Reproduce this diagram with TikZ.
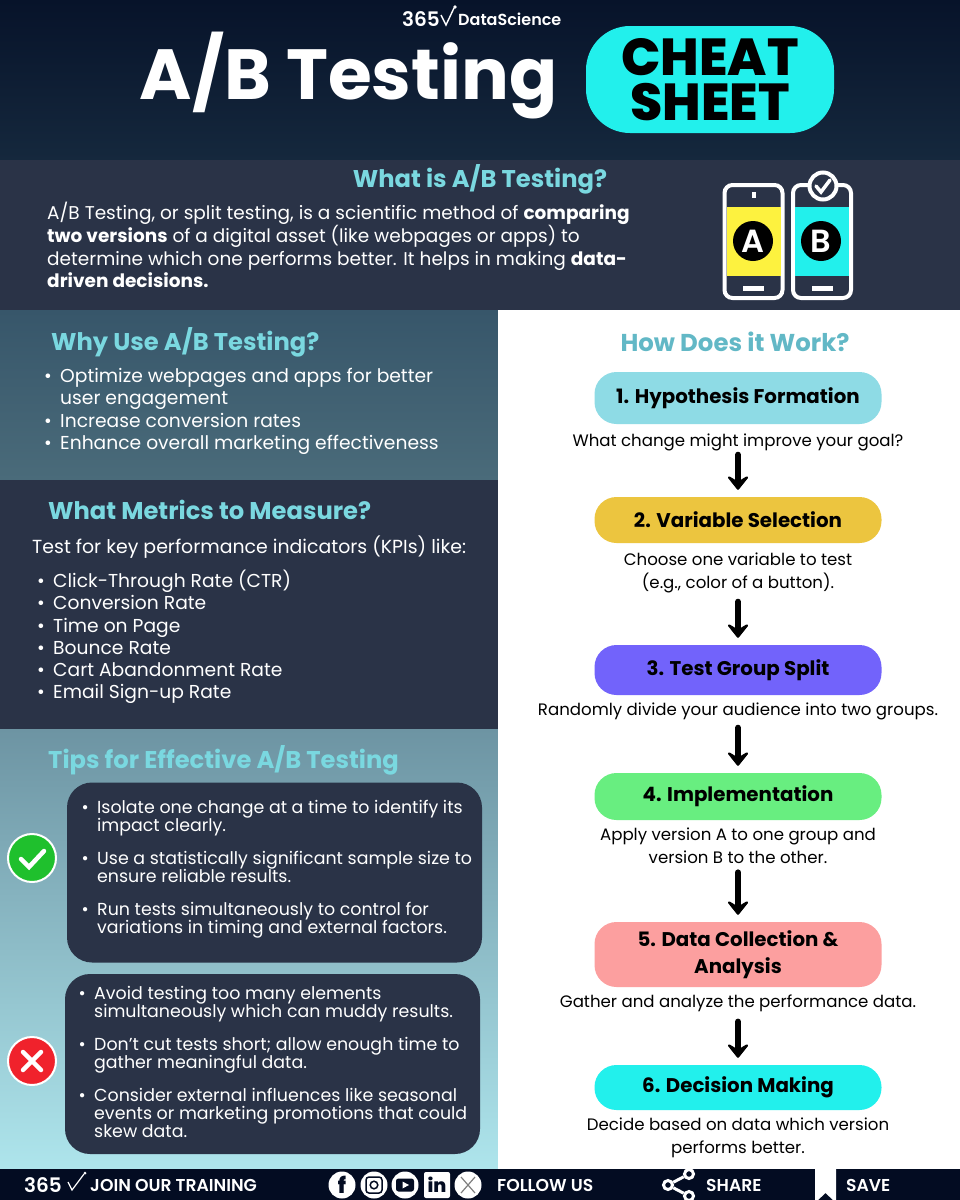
\documentclass[tikz,border=0pt]{standalone}
\usepackage{fontspec}
\setmainfont{Poppins}
\newfontfamily\heavyfont{Poppins}[UprightFont=* ExtraBold]
\newfontfamily\semifont{Poppins}[UprightFont=* SemiBold]
\usepackage{xcolor}
\usepackage{tikz}
\usetikzlibrary{arrows.meta,positioning,shapes.geometric}

\definecolor{navy}{HTML}{030C22}
\definecolor{headtop}{HTML}{07132A}
\definecolor{headbot}{HTML}{15283D}
\definecolor{slate}{HTML}{2A3347}
\definecolor{whytop}{HTML}{37566A}
\definecolor{whybot}{HTML}{4A6B7A}
\definecolor{tiptop}{HTML}{6D94A3}
\definecolor{tipbot}{HTML}{AEE5EC}
\definecolor{headcyan}{HTML}{7AD8E0}
\definecolor{howcyan}{HTML}{62B8C6}
\definecolor{cyanpill}{HTML}{22F0EC}
\definecolor{stepblue}{HTML}{8EDBE5}
\definecolor{stepgold}{HTML}{ECC53F}
\definecolor{stepviolet}{HTML}{7263FB}
\definecolor{stepgreen}{HTML}{68EE80}
\definecolor{steppink}{HTML}{FC9F9F}
\definecolor{okgreen}{HTML}{1FC02D}
\definecolor{nored}{HTML}{F0222C}
\definecolor{screenA}{HTML}{FDF23F}

% size in px, leading in px
\newcommand{\fsz}[2]{\fontsize{#1}{#2}\selectfont}
% lines of a node, its baseline being the first line
\newcommand{\rows}[1]{\begin{tabular}[t]{@{}l@{}}#1\end{tabular}}

\begin{document}
\begin{tikzpicture}[
    x=1pt, y=-1pt,
    heading/.style={font=\bfseries\fsz{24.2}{28}, text=headcyan, inner sep=0pt},
    bodytext/.style={font=\fsz{18.5}{22.3}, text=white, anchor=base west, inner sep=0pt},
    bulletitem/.style={font=\fsz{18.7}{22.3}, text=white, anchor=base west, inner sep=0pt,
        label={[font=\fsz{18.7}{22.3}, text=white, inner sep=0pt, anchor=base east, xshift=-8pt]base west:•}},
    tipitem/.style={font=\fsz{17.4}{17}, text=white, anchor=base west, inner sep=0pt,
        label={[font=\fsz{17.4}{17}, text=white, inner sep=0pt, anchor=base east, xshift=-8pt]base west:•}},
    tipbox/.style={rectangle, fill=slate, rounded corners=25pt, minimum width=415pt, minimum height=180pt},
    stepbox/.style={rectangle, rounded corners=22pt, minimum width=287pt, align=center, font=\bfseries\fsz{19.8}{27}, text=black},
    stepnote/.style={font=\fsz{16.6}{23}, text=black, align=center, inner sep=0pt},
    flowarrow/.style={-{Stealth[round,length=17pt,width=27pt,inset=8pt,line width=2.5pt]}, line width=6pt, line cap=round, black},
    barlabel/.style={font=\semifont\fsz{17.2}{20}, text=white, anchor=west, inner sep=0pt},
    phone/.style={draw=white, line width=4pt, rounded corners=8pt, minimum width=58pt, minimum height=113pt, fill=slate}
]
    \useasboundingbox (0,0) rectangle (960,1200);

    % Panels
    \shade[top color=headtop, bottom color=headbot] (0,0) rectangle (960,160);
    \fill[slate] (0,160) rectangle (960,310);
    \shade[top color=whytop, bottom color=whybot] (0,310) rectangle (498,480);
    \fill[slate] (0,480) rectangle (498,729);
    \shade[top color=tiptop, bottom color=tipbot] (0,729) rectangle (498,1169);
    \fill[white] (498,310) rectangle (960,1169);
    \fill[navy] (0,1169) rectangle (960,1200);

    % Title
    \node[font=\semifont\fsz{20}{24}, text=white, inner sep=0pt, anchor=west] (logo365) at (402,19.5) {365};
    \draw[white, line width=1.4pt] (441,15) -- (446,25) -- (454,8);
    \fill[white] (455,7) circle (1.8pt);
    \node[font=\semifont\fsz{16}{24}, text=white, inner sep=0pt, anchor=west] (logoname) at (458,19.5) {DataScience};
    \node[font=\bfseries\fsz{71}{80}, text=white, inner sep=0pt] (title) at (348.5,76) {A/B Testing};
    \node[fill=cyanpill, rounded corners=44pt, minimum width=248pt, minimum height=107pt] (pill) at (710,79.5) {};
    \node[font=\heavyfont\fsz{52}{45}, text=black, align=center, inner sep=0pt] (cheat) at (pill) {CHEAT\\SHEET};

    % What is
    \node[heading] (whatis) at (480,179) {What is A/B Testing?};
    \node[bodytext] (intro) at (47,219) {\rows{A/B Testing, or split testing, is a scientific method of \textbf{comparing}\\
        \textbf{two versions} of a digital asset (like webpages or apps) to\\
        determine which one performs better. It helps in making \textbf{data-}\\
        \textbf{driven decisions.}}};

    % Phones
    \node[phone] (phoneA) at (753.5,241.5) {};
    \node[phone] (phoneB) at (822,241.5) {};
    \fill[screenA] (727,207) rectangle (781,276);
    \fill[cyanpill] (795,207) rectangle (849,276);
    \fill[white] (751.5,192) rectangle (755.5,198);
    \fill[white] (743,286) rectangle (764,291);
    \fill[white] (812,286) rectangle (833,291);
    \node[circle, fill=black, text=white, font=\semifont\fsz{32}{32}, minimum size=40pt, inner sep=0pt] (markA) at (753,241) {A};
    \node[circle, fill=black, text=white, font=\semifont\fsz{32}{32}, minimum size=40pt, inner sep=0pt] (markB) at (821,241) {B};
    \node[circle, draw=white, line width=4pt, fill=slate, minimum size=27pt, inner sep=0pt] (checkB) at (823,186) {};
    \draw[white, line width=3.5pt, line cap=round] (816,186) -- (821,192) -- (830,180);

    % Why use
    \node[heading, anchor=west] (whyuse) at (51,342) {Why Use A/B Testing?};
    \node[bulletitem] (why1) at (60,382) {\rows{Optimize webpages and apps for better\\user engagement}};
    \node[bulletitem] (why2) at (60,427) {Increase conversion rates};
    \node[bulletitem] (why3) at (60,449) {Enhance overall marketing effectiveness};

    % Metrics
    \node[heading, anchor=west] (metrics) at (48,510) {What Metrics to Measure?};
    \node[bodytext, font=\fsz{18.9}{22.3}] (kpi) at (32,553) {Test for key performance indicators (KPIs) like:};
    \foreach \n/\y/\txt in {1/587/Click-Through Rate (CTR), 2/609/Conversion Rate, 3/632/Time on Page,
        4/654/Bounce Rate, 5/676/Cart Abandonment Rate, 6/698/Email Sign-up Rate}
        \node[bulletitem] (metric\n) at (53,\y) {\txt};

    % Tips
    \node[heading, anchor=west] (tips) at (48,760) {Tips for Effective A/B Testing};
    \node[tipbox] (dobox) at (274.5,872.5) {};
    \node[tipbox] (dontbox) at (272.5,1064) {};
    \node[tipitem] (do1) at (97,813) {\rows{Isolate one change at a time to identify its\\impact clearly.}};
    \node[tipitem] (do2) at (97,864) {\rows{Use a statistically significant sample size to\\ensure reliable results.}};
    \node[tipitem] (do3) at (97,915) {\rows{Run tests simultaneously to control for\\variations in timing and external factors.}};
    \node[tipitem] (dont1) at (94,999) {\rows{Avoid testing too many elements\\simultaneously which can muddy results.}};
    \node[tipitem] (dont2) at (94,1050) {\rows{Don't cut tests short; allow enough time to\\gather meaningful data.}};
    \node[tipitem] (dont3) at (94,1101) {\rows{Consider external influences like seasonal\\events or marketing promotions that could\\skew data.}};
    \node[circle, draw=white, line width=2pt, fill=okgreen, minimum size=48pt, inner sep=0pt] (yes) at (32,858) {};
    \draw[white, line width=4.5pt, line cap=round] (21,859) -- (29,867) -- (44,851);
    \node[circle, draw=white, line width=2pt, fill=nored, minimum size=48pt, inner sep=0pt] (no) at (32,1061) {};
    \draw[white, line width=4.5pt, line cap=round] (23,1052) -- (41,1070) (41,1052) -- (23,1070);

    % How does it work
    \node[font=\bfseries\fsz{24.4}{28}, text=howcyan, inner sep=0pt] (how) at (735,342) {How Does it Work?};
    \node[stepbox, fill=stepblue, minimum height=52pt] (step1) at (738,398) {1. Hypothesis Formation};
    \node[stepnote, below=9pt of step1] (note1) {What change might improve your goal?};
    \node[stepbox, fill=stepgold, minimum height=46pt] (step2) at (738,520) {2. Variable Selection};
    \node[stepnote, below=9pt of step2] (note2) {Choose one variable to test\\(e.g., color of a button).};
    \node[stepbox, fill=stepviolet, minimum height=50pt] (step3) at (738,670) {3. Test Group Split};
    \node[stepnote, below=7pt of step3] (note3) {Randomly divide your audience into two groups.};
    \node[stepbox, fill=stepgreen, minimum height=47pt] (step4) at (738,796.5) {4. Implementation};
    \node[stepnote, below=7pt of step4] (note4) {Apply version A to one group and\\version B to the other.};
    \node[stepbox, fill=steppink, minimum height=65pt] (step5) at (738,954.5) {5. Data Collection \&\\Analysis};
    \node[stepnote, below=7pt of step5] (note5) {Gather and analyze the performance data.};
    \node[stepbox, fill=cyanpill, minimum height=45pt] (step6) at (738,1087.5) {6. Decision Making};
    \node[stepnote, below=7pt of step6] (note6) {Decide based on data which version\\performs better.};

    \foreach \a/\b/\gap in {note1/step2/4, note2/step3/9, note3/step4/8, note4/step5/9, note5/step6/10}
        \draw[flowarrow, shorten <=\gap pt, shorten >=7pt] (\a.south -| 738,0) -- (\b.north);

    % Footer
    \node[barlabel, font=\semifont\fsz{20}{20}] (bar365) at (24,1185) {365};
    \draw[white, line width=1.2pt] (68,1182) -- (72,1190) -- (84,1174);
    \fill[white] (85,1173) circle (1.5pt);
    \node[barlabel] (join) at (90,1185) {JOIN OUR TRAINING};
    \node[circle, fill=white, text=navy, font=\heavyfont\fsz{22}{22}, minimum size=27pt, inner sep=0pt] (fb) at (342,1185) {f};
    \node[circle, fill=white, minimum size=27pt, inner sep=0pt] (insta) at (374,1185) {};
    \draw[navy, line width=1.5pt, rounded corners=3pt] (366,1177) rectangle (382,1193);
    \draw[navy, line width=1.5pt] (374,1185) circle (3.8pt);
    \node[circle, fill=white, minimum size=27pt, inner sep=0pt] (yt) at (405,1185) {};
    \fill[navy, rounded corners=2.5pt] (396,1178.5) rectangle (414,1191.5);
    \fill[white] (402.5,1181.5) -- (409,1185) -- (402.5,1188.5) -- cycle;
    \node[rectangle, fill=white, rounded corners=2pt, text=navy, font=\heavyfont\fsz{19}{19}, minimum size=26pt, inner sep=0pt] (in) at (437,1185) {in};
    \node[circle, fill=white, minimum size=27pt, inner sep=0pt] (xlogo) at (468,1185) {};
    \draw[black!50, line width=1.2pt] (461,1177) -- (475,1193) (475,1177) -- (461,1193);
    \node[barlabel] (follow) at (497,1185) {FOLLOW US};
    \node[circle, draw=white, line width=3pt, minimum size=9pt, inner sep=0pt] (sh1) at (668,1185) {};
    \node[circle, draw=white, line width=3pt, minimum size=9pt, inner sep=0pt] (sh2) at (689,1174) {};
    \node[circle, draw=white, line width=3pt, minimum size=9pt, inner sep=0pt] (sh3) at (689,1196) {};
    \draw[white, line width=3pt] (sh1) -- (sh2) (sh1) -- (sh3);
    \node[barlabel] (share) at (706,1185) {SHARE};
    \fill[white] (815,1168) -- (836,1168) -- (836,1200) -- (833,1200) -- (825.5,1193) -- (818,1200) -- (815,1200) -- cycle;
    \node[barlabel] (save) at (846,1185) {SAVE};
\end{tikzpicture}
\end{document}
